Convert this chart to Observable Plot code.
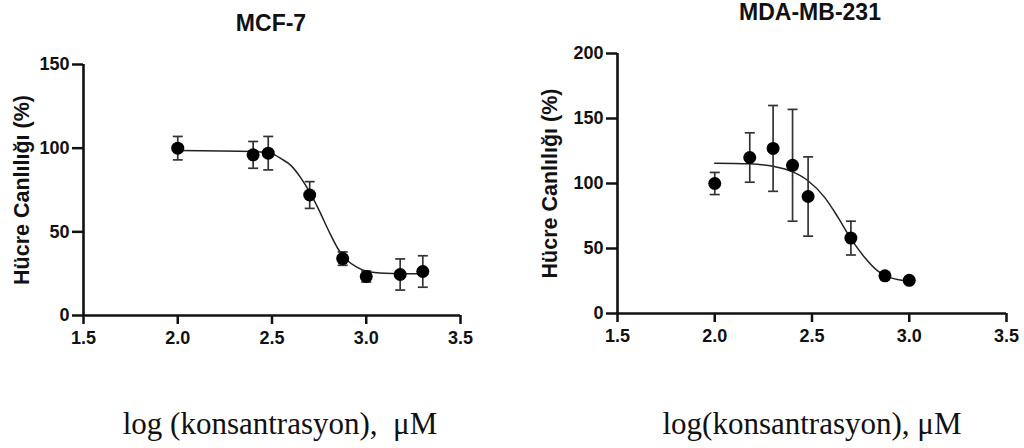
<!DOCTYPE html>
<html>
<head>
<meta charset="utf-8">
<script src="https://cdn.jsdelivr.net/npm/d3@7"></script>
<script src="https://cdn.jsdelivr.net/npm/@observablehq/plot@0.6"></script>
<style>
  html, body { margin: 0; padding: 0; background: #fff; }
  #root { position: relative; width: 1024px; height: 448px; overflow: hidden; background: #fff; }
  .panel { position: absolute; top: 0; }
  .title { position: absolute; font-family: "Liberation Sans", Arial, sans-serif; font-weight: bold; font-size: 23px; color: #111; white-space: nowrap; transform: translateX(-50%); line-height: 1; }
  .caption { position: absolute; font-family: "Liberation Serif", "Times New Roman", serif; font-size: 31px; color: #111; white-space: pre; transform: translateX(-50%); line-height: 1; }
</style>
</head>
<body>
<div id="root"></div>
<script>
// ---- data ----
const xTicks = [1.5, 2.0, 2.5, 3.0, 3.5];
const mcfYTicks = [0, 50, 100, 150];
const mdaYTicks = [0, 50, 100, 150, 200];

const mcfTitle = "MCF-7";
const mdaTitle = "MDA-MB-231";
const yLabel = "Hücre Canlılığı (%)";
const mcfCaption = "log (konsantrasyon),  μM";
const mdaCaption = "log(konsantrasyon), μM";

// MCF-7 measured points (log concentration, mean viability %, error)
const mcfX    = [2.0, 2.4, 2.48, 2.7, 2.875, 3.0, 3.18, 3.3];
const mcfMean = [100, 96, 97, 72, 34, 23.3, 24.5, 26.3];
const mcfErr  = [7, 8, 10, 8, 4, 3.3, 9.3, 9.4];
// MCF-7 fitted curve
const mcfFitX = [2.0, 2.4, 2.5, 2.55, 2.6, 2.65, 2.7, 2.75, 2.8, 2.85, 2.9, 2.95, 3.0, 3.1, 3.3];
const mcfFitY = [98.6, 98.0, 96.6, 93.6, 89.7, 82.7, 73.7, 62.8, 50.8, 39.9, 32.9, 28.9, 26.5, 25.3, 24.9];

// MDA-MB-231 measured points
const mdaX    = [2.0, 2.18, 2.3, 2.4, 2.48, 2.7, 2.875, 3.0];
const mdaMean = [100, 120, 127, 114, 90, 58, 29, 25.5];
const mdaErr  = [8.5, 19, 33, 43, 30.5, 13, 1.5, 1.5];
// MDA-MB-231 fitted curve
const mdaFitX = [2.0, 2.177, 2.306, 2.392, 2.478, 2.564, 2.633, 2.701, 2.77, 2.839, 2.907, 3.0];
const mdaFitY = [115.6, 115.1, 113.1, 109.5, 102.3, 89.5, 74.1, 57.4, 43.3, 32.6, 27.4, 24.9];

// ---- drawing ----
const capSymbol = { draw(ctx) { ctx.moveTo(-5, 0); ctx.lineTo(5, 0); } };
const FONT = "'Liberation Sans', Arial, sans-serif";

function panel({xs, means, errs, fitX, fitY, yTicks, yMax, margins, labelDx}) {
  const pts = xs.map((x, i) => ({x, y: means[i], lo: means[i] - errs[i], hi: means[i] + errs[i]}));
  const fit = fitX.map((x, i) => ({x, y: fitY[i]}));
  return Plot.plot({
    width: 512,
    height: 360,
    ...margins,
    x: {domain: [1.5, 3.5]},
    y: {domain: [0, yMax]},
    style: {fontFamily: FONT, fontSize: "18px", fontWeight: "bold", color: "#111", background: "transparent", overflow: "visible"},
    marks: [
      Plot.axisX({ticks: xTicks, tickFormat: d3.format(".1f"), tickSize: 9, tickPadding: 7, strokeWidth: 2.5, label: null, fontSize: 18, fontWeight: "bold", fontFamily: FONT, fill: "#111"}),
      Plot.axisY({ticks: yTicks, tickSize: 11, tickPadding: 3, strokeWidth: 2.5, label: null, fontSize: 18, fontWeight: "bold", fontFamily: FONT, fill: "#111"}),
      Plot.ruleY([0], {stroke: "#111", strokeWidth: 2.6}),
      Plot.ruleX([1.5], {stroke: "#111", strokeWidth: 2.6}),
      Plot.text([yLabel], {frameAnchor: "left", textAnchor: "middle", lineAnchor: "middle", rotate: -90, dx: labelDx, fontSize: 21.5, fontWeight: "bold", fontFamily: FONT, fill: "#111"}),
      Plot.line(fit, {x: "x", y: "y", curve: "monotone-x", stroke: "#222", strokeWidth: 1.5}),
      Plot.ruleX(pts, {x: "x", y1: "lo", y2: "hi", stroke: "#333", strokeWidth: 1.7}),
      Plot.dot(pts, {x: "x", y: "hi", symbol: capSymbol, stroke: "#333", strokeWidth: 1.7, fill: "none"}),
      Plot.dot(pts, {x: "x", y: "lo", symbol: capSymbol, stroke: "#333", strokeWidth: 1.7, fill: "none"}),
      Plot.dot(pts, {x: "x", y: "y", r: 6.5, fill: "#000", stroke: "none"})
    ]
  });
}

const root = document.getElementById("root");

function addDiv(cls, text, left, top) {
  const d = document.createElement("div");
  d.className = cls;
  d.textContent = text;
  d.style.left = left + "px";
  d.style.top = top + "px";
  root.appendChild(d);
}

const left = document.createElement("div");
left.className = "panel";
left.style.left = "0px";
left.appendChild(panel({
  xs: mcfX, means: mcfMean, errs: mcfErr, fitX: mcfFitX, fitY: mcfFitY,
  yTicks: mcfYTicks, yMax: 150,
  margins: {marginLeft: 83, marginRight: 52, marginTop: 64, marginBottom: 45},
  labelDx: -61
}));
root.appendChild(left);

const right = document.createElement("div");
right.className = "panel";
right.style.left = "512px";
right.appendChild(panel({
  xs: mdaX, means: mdaMean, errs: mdaErr, fitX: mdaFitX, fitY: mdaFitY,
  yTicks: mdaYTicks, yMax: 200,
  margins: {marginLeft: 105, marginRight: 18, marginTop: 53, marginBottom: 47},
  labelDx: -67
}));
root.appendChild(right);

addDiv("title", mcfTitle, 271, 12);
addDiv("title", mdaTitle, 810, 1);
addDiv("caption", mcfCaption, 280, 408);
addDiv("caption", mdaCaption, 812, 408);
</script>
</body>
</html>
